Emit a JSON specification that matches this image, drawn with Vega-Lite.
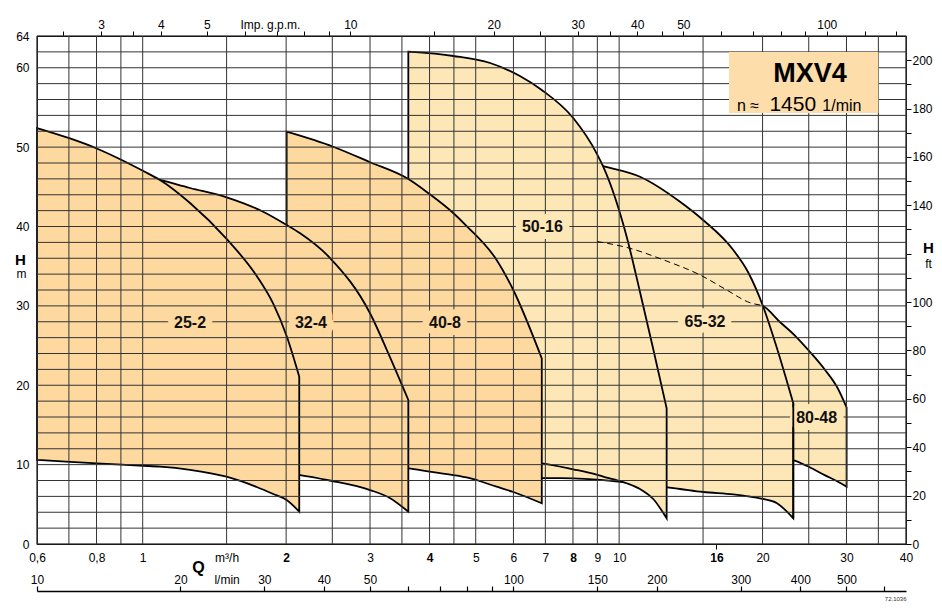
{
  "$schema": "https://vega.github.io/schema/vega-lite/v6.json",
  "width": 869,
  "height": 508,
  "autosize": {"type": "none"},
  "padding": {"left": 37, "top": 36, "right": 36, "bottom": 72},
  "background": "white",
  "config": {
    "font": "Liberation Sans",
    "view": {"stroke": "#000", "strokeWidth": 1.2},
    "axis": {"labelFont": "Liberation Sans", "labelFontSize": 12, "labelColor": "#000", "titleFont": "Liberation Sans", "titleColor": "#000", "labelOverlap": false, "labelBound": false, "labelFlush": false, "grid": false}
  },
  "datasets": {
    "pumps": [
      {"pump": "25-2", "q": 0.6, "top": 52.4, "bot": 10.6},
      {"pump": "25-2", "q": 0.7037, "top": 51.09, "bot": 10.35},
      {"pump": "25-2", "q": 0.8008, "top": 49.83, "bot": 10.17},
      {"pump": "25-2", "q": 0.9034, "top": 48.38, "bot": 10.0},
      {"pump": "25-2", "q": 1.003, "top": 46.99, "bot": 9.86},
      {"pump": "25-2", "q": 1.087, "top": 45.86, "bot": 9.75},
      {"pump": "25-2", "q": 1.257, "top": 42.96, "bot": 9.35},
      {"pump": "25-2", "q": 1.5, "top": 38.43, "bot": 8.48},
      {"pump": "25-2", "q": 1.735, "top": 33.76, "bot": 7.18},
      {"pump": "25-2", "q": 1.88, "top": 30.24, "bot": 6.3},
      {"pump": "25-2", "q": 2.005, "top": 26.2, "bot": 5.54},
      {"pump": "25-2", "q": 2.131, "top": 21.07, "bot": 4.07},

      {"pump": "32-4", "q": 1.0, "top": 46.4, "bot": 10.2},
      {"pump": "32-4", "q": 1.087, "top": 45.86, "bot": 10.05},
      {"pump": "32-4", "q": 1.257, "top": 44.85, "bot": 9.8},
      {"pump": "32-4", "q": 1.5, "top": 43.68, "bot": 9.5},
      {"pump": "32-4", "q": 1.79, "top": 41.86, "bot": 9.15},
      {"pump": "32-4", "q": 2.005, "top": 40.19, "bot": 8.9},
      {"pump": "32-4", "q": 2.14, "top": 39.14, "bot": 8.69},
      {"pump": "32-4", "q": 2.47, "top": 36.06, "bot": 8.0},
      {"pump": "32-4", "q": 3.0, "top": 29.07, "bot": 6.8},
      {"pump": "32-4", "q": 3.3, "top": 23.6, "bot": 5.8},
      {"pump": "32-4", "q": 3.61, "top": 18.14, "bot": 4.07},

      {"pump": "40-8", "q": 2.005, "top": 51.94, "bot": 10.3},
      {"pump": "40-8", "q": 2.51, "top": 50.05, "bot": 10.1},
      {"pump": "40-8", "q": 3.0, "top": 48.1, "bot": 9.9},
      {"pump": "40-8", "q": 3.61, "top": 45.98, "bot": 9.54},
      {"pump": "40-8", "q": 4.0, "top": 44.09, "bot": 9.13},
      {"pump": "40-8", "q": 4.485, "top": 41.7, "bot": 8.69},
      {"pump": "40-8", "q": 4.786, "top": 40.06, "bot": 8.38},
      {"pump": "40-8", "q": 5.532, "top": 35.78, "bot": 7.22},
      {"pump": "40-8", "q": 5.995, "top": 32.0, "bot": 6.55},
      {"pump": "40-8", "q": 6.88, "top": 23.39, "bot": 5.13},

      {"pump": "50-16", "q": 3.61, "top": 62.02, "bot": 11.2},
      {"pump": "50-16", "q": 4.49, "top": 61.48, "bot": 10.9},
      {"pump": "50-16", "q": 5.36, "top": 60.6, "bot": 10.65},
      {"pump": "50-16", "q": 6.19, "top": 58.96, "bot": 10.4},
      {"pump": "50-16", "q": 6.88, "top": 57.2, "bot": 10.17},
      {"pump": "50-16", "q": 8.01, "top": 53.67, "bot": 9.41},
      {"pump": "50-16", "q": 8.97, "top": 49.22, "bot": 8.74},
      {"pump": "50-16", "q": 9.26, "top": 47.53, "bot": 8.5},
      {"pump": "50-16", "q": 9.81, "top": 43.59, "bot": 8.1},
      {"pump": "50-16", "q": 10.37, "top": 38.72, "bot": 7.65},
      {"pump": "50-16", "q": 11.06, "top": 31.75, "bot": 6.93},
      {"pump": "50-16", "q": 11.79, "top": 24.57, "bot": 5.67},
      {"pump": "50-16", "q": 12.58, "top": 17.1, "bot": 3.24},

      {"pump": "65-32", "q": 6.7, "top": 48.9, "bot": 8.3},
      {"pump": "65-32", "q": 8.0, "top": 48.5, "bot": 8.28},
      {"pump": "65-32", "q": 9.25, "top": 47.6, "bot": 8.06},
      {"pump": "65-32", "q": 11.06, "top": 46.27, "bot": 7.56},
      {"pump": "65-32", "q": 13.42, "top": 43.12, "bot": 6.93},
      {"pump": "65-32", "q": 15.0, "top": 40.82, "bot": 6.55},
      {"pump": "65-32", "q": 17.36, "top": 37.04, "bot": 6.24},
      {"pump": "65-32", "q": 18.64, "top": 34.27, "bot": 6.0},
      {"pump": "65-32", "q": 20.0, "top": 30.11, "bot": 5.67},
      {"pump": "65-32", "q": 21.4, "top": 24.82, "bot": 5.17},
      {"pump": "65-32", "q": 23.2, "top": 17.73, "bot": 3.24},

      {"pump": "80-48", "q": 19.0, "top": 30.25, "bot": 11.3},
      {"pump": "80-48", "q": 20.0, "top": 30.0, "bot": 11.15},
      {"pump": "80-48", "q": 21.75, "top": 27.97, "bot": 10.9},
      {"pump": "80-48", "q": 23.44, "top": 26.2, "bot": 10.48},
      {"pump": "80-48", "q": 25.16, "top": 24.19, "bot": 9.64},
      {"pump": "80-48", "q": 27.06, "top": 21.92, "bot": 8.65},
      {"pump": "80-48", "q": 28.74, "top": 19.65, "bot": 7.87},
      {"pump": "80-48", "q": 30.02, "top": 17.2, "bot": 7.22}
    ],
    "dashed": [
      {"q": 9.0, "h": 38.1},
      {"q": 10.54, "h": 37.25},
      {"q": 12.38, "h": 35.8},
      {"q": 14.78, "h": 33.9},
      {"q": 16.82, "h": 32.0},
      {"q": 18.82, "h": 30.4},
      {"q": 20.0, "h": 30.05}
    ],
    "labels": [
      {"pump": "25-2", "q": 1.257, "h": 27.85},
      {"pump": "32-4", "q": 2.255, "h": 27.85},
      {"pump": "40-8", "q": 4.31, "h": 27.85},
      {"pump": "50-16", "q": 6.9, "h": 40.0},
      {"pump": "65-32", "q": 15.14, "h": 27.95},
      {"pump": "80-48", "q": 25.97, "h": 15.85}
    ],
    "vgrid": [
      {"q": 0.6}, {"q": 0.7}, {"q": 0.8}, {"q": 0.9}, {"q": 1}, {"q": 1.5}, {"q": 2}, {"q": 2.5},
      {"q": 3}, {"q": 3.5}, {"q": 4}, {"q": 4.5}, {"q": 5}, {"q": 6}, {"q": 7}, {"q": 8}, {"q": 9},
      {"q": 10}, {"q": 15}, {"q": 20}, {"q": 25}, {"q": 30}, {"q": 35}, {"q": 40}
    ],
    "hgrid": [
      {"h": 0}, {"h": 2}, {"h": 4}, {"h": 6}, {"h": 8}, {"h": 10}, {"h": 12}, {"h": 14}, {"h": 16},
      {"h": 18}, {"h": 20}, {"h": 22}, {"h": 24}, {"h": 26}, {"h": 28}, {"h": 30}, {"h": 32},
      {"h": 34}, {"h": 36}, {"h": 38}, {"h": 40}, {"h": 42}, {"h": 44}, {"h": 46}, {"h": 48},
      {"h": 50}, {"h": 52}, {"h": 54}, {"h": 56}, {"h": 58}, {"h": 60}, {"h": 62}, {"h": 64}
    ]
  },
  "layer": [
    {
      "data": {"name": "pumps"},
      "transform": [{"filter": "datum.pump == '80-48'"}],
      "mark": {"type": "area", "interpolate": "monotone", "fill": "#FEE7B6", "stroke": "#000", "strokeWidth": 1.8},
      "encoding": {
        "x": {"field": "q", "type": "quantitative", "scale": {"type": "log", "domain": [0.6, 40], "nice": false}, "axis": null},
        "y": {"field": "top", "type": "quantitative", "scale": {"domain": [0, 64], "nice": false, "zero": false}, "axis": null},
        "y2": {"field": "bot"}
      }
    },
    {
      "data": {"name": "pumps"},
      "transform": [{"filter": "datum.pump == '65-32'"}],
      "mark": {"type": "area", "interpolate": "monotone", "fill": "#FEE7B6", "stroke": "#000", "strokeWidth": 1.8},
      "encoding": {
        "x": {"field": "q", "type": "quantitative", "scale": {"type": "log", "domain": [0.6, 40], "nice": false}, "axis": null},
        "y": {"field": "top", "type": "quantitative", "scale": {"domain": [0, 64], "nice": false, "zero": false}, "axis": null},
        "y2": {"field": "bot"}
      }
    },
    {
      "data": {"name": "pumps"},
      "transform": [{"filter": "datum.pump == '50-16'"}],
      "mark": {"type": "area", "interpolate": "monotone", "fill": "#FEE7B6", "stroke": "#000", "strokeWidth": 1.8},
      "encoding": {
        "x": {"field": "q", "type": "quantitative", "scale": {"type": "log", "domain": [0.6, 40], "nice": false}, "axis": null},
        "y": {"field": "top", "type": "quantitative", "scale": {"domain": [0, 64], "nice": false, "zero": false}, "axis": null},
        "y2": {"field": "bot"}
      }
    },
    {
      "data": {"name": "pumps"},
      "transform": [{"filter": "datum.pump == '40-8'"}],
      "mark": {"type": "area", "interpolate": "monotone", "fill": "#FDD9A0", "stroke": "#000", "strokeWidth": 1.8},
      "encoding": {
        "x": {"field": "q", "type": "quantitative", "scale": {"type": "log", "domain": [0.6, 40], "nice": false}, "axis": null},
        "y": {"field": "top", "type": "quantitative", "scale": {"domain": [0, 64], "nice": false, "zero": false}, "axis": null},
        "y2": {"field": "bot"}
      }
    },
    {
      "data": {"name": "pumps"},
      "transform": [{"filter": "datum.pump == '32-4'"}],
      "mark": {"type": "area", "interpolate": "monotone", "fill": "#FDD9A0", "stroke": "#000", "strokeWidth": 1.8},
      "encoding": {
        "x": {"field": "q", "type": "quantitative", "scale": {"type": "log", "domain": [0.6, 40], "nice": false}, "axis": null},
        "y": {"field": "top", "type": "quantitative", "scale": {"domain": [0, 64], "nice": false, "zero": false}, "axis": null},
        "y2": {"field": "bot"}
      }
    },
    {
      "data": {"name": "pumps"},
      "transform": [{"filter": "datum.pump == '25-2'"}],
      "mark": {"type": "area", "interpolate": "monotone", "fill": "#FDD9A0", "stroke": "#000", "strokeWidth": 1.8},
      "encoding": {
        "x": {"field": "q", "type": "quantitative", "scale": {"type": "log", "domain": [0.6, 40], "nice": false}, "axis": null},
        "y": {"field": "top", "type": "quantitative", "scale": {"domain": [0, 64], "nice": false, "zero": false}, "axis": null},
        "y2": {"field": "bot"}
      }
    },
    {
      "data": {"name": "vgrid"},
      "mark": {"type": "rule", "stroke": "#333", "strokeWidth": 1},
      "encoding": {
        "x": {
          "field": "q", "type": "quantitative",
          "scale": {"type": "log", "domain": [0.6, 40], "nice": false},
          "axis": {
            "orient": "bottom",
            "values": [0.6, 0.8, 1, 1.5, 2, 3, 4, 5, 6, 7, 8, 9, 10, 16, 20, 30, 40],
            "labelExpr": "datum.value == 1.5 ? 'm³/h' : replace('' + datum.value, '.', ',')",
            "domain": false,
            "ticks": true,
            "tickSize": 5,
            "tickColor": "#000",
            "tickOpacity": {"condition": {"test": "datum.value == 16", "value": 1}, "value": 0},
            "labelFontWeight": {"condition": {"test": "indexof([2, 4, 8, 16], datum.value) >= 0", "value": "bold"}, "value": "normal"},
            "labelBaseline": "alphabetic",
            "labelPadding": 12.5,
            "title": "Q",
            "titleFontSize": 16,
            "titleFontWeight": "bold",
            "titleX": 161,
            "titleY": 23,
            "titleAlign": "center",
            "titleBaseline": "middle",
            "titleAngle": 0
          }
        }
      }
    },
    {
      "data": {"name": "hgrid"},
      "mark": {"type": "rule", "stroke": "#333", "strokeWidth": 1},
      "encoding": {
        "y": {
          "field": "h", "type": "quantitative",
          "scale": {"domain": [0, 64], "nice": false, "zero": false},
          "axis": {
            "orient": "left",
            "values": [0, 10, 20, 30, 34.14, 40, 50, 60, 64],
            "labelExpr": "datum.value == 34.14 ? 'm' : '' + datum.value",
            "domain": false,
            "ticks": false,
            "labelAlign": {"condition": {"test": "datum.value == 34.14", "value": "center"}, "value": "right"},
            "labelPadding": {"condition": {"test": "datum.value == 34.14", "value": 16}, "value": 8},
            "title": "H",
            "titleFontSize": 15,
            "titleFontWeight": "bold",
            "titleAngle": 0,
            "titleX": -17,
            "titleY": 223,
            "titleAlign": "center",
            "titleBaseline": "middle"
          }
        }
      }
    },
    {
      "data": {"name": "dashed"},
      "mark": {"type": "line", "interpolate": "monotone", "stroke": "#000", "strokeWidth": 1, "strokeDash": [6, 4]},
      "encoding": {
        "x": {"field": "q", "type": "quantitative", "scale": {"type": "log", "domain": [0.6, 40], "nice": false}, "axis": null},
        "y": {"field": "h", "type": "quantitative", "scale": {"domain": [0, 64], "nice": false, "zero": false}, "axis": null}
      }
    },
    {
      "data": {"values": [{"name": "MXV4", "q0": 17.0, "q1": 35.0, "h0": 54.3, "h1": 62.0}]},
      "mark": {"type": "rect", "fill": "#FDDDAA"},
      "encoding": {
        "x": {"field": "q0", "type": "quantitative", "scale": {"type": "log", "domain": [0.6, 40], "nice": false}, "axis": null},
        "x2": {"field": "q1"},
        "y": {"field": "h0", "type": "quantitative", "scale": {"domain": [0, 64], "nice": false, "zero": false}, "axis": null},
        "y2": {"field": "h1"}
      }
    },
    {
      "data": {"values": [{"t": "MXV4", "q": 25.14, "h": 58.24}]},
      "mark": {"type": "text", "font": "Liberation Sans", "fontSize": 27, "fontWeight": "bold", "align": "center", "baseline": "alphabetic", "fill": "#000"},
      "encoding": {
        "x": {"field": "q", "type": "quantitative", "scale": {"type": "log", "domain": [0.6, 40], "nice": false}, "axis": null},
        "y": {"field": "h", "type": "quantitative", "scale": {"domain": [0, 64], "nice": false, "zero": false}, "axis": null},
        "text": {"field": "t"}
      }
    },
    {
      "data": {"values": [{"t": "n ≈", "q": 17.67, "h": 54.61}, {"t": "1/min", "q": 26.7, "h": 54.61}]},
      "mark": {"type": "text", "font": "Liberation Sans", "fontSize": 16, "align": "left", "baseline": "alphabetic", "fill": "#000"},
      "encoding": {
        "x": {"field": "q", "type": "quantitative", "scale": {"type": "log", "domain": [0.6, 40], "nice": false}, "axis": null},
        "y": {"field": "h", "type": "quantitative", "scale": {"domain": [0, 64], "nice": false, "zero": false}, "axis": null},
        "text": {"field": "t"}
      }
    },
    {
      "data": {"values": [{"t": "1450", "q": 20.67, "h": 54.61}]},
      "mark": {"type": "text", "font": "Liberation Sans", "fontSize": 21, "align": "left", "baseline": "alphabetic", "fill": "#000"},
      "encoding": {
        "x": {"field": "q", "type": "quantitative", "scale": {"type": "log", "domain": [0.6, 40], "nice": false}, "axis": null},
        "y": {"field": "h", "type": "quantitative", "scale": {"domain": [0, 64], "nice": false, "zero": false}, "axis": null},
        "text": {"field": "t"}
      }
    },
    {
      "data": {"name": "labels"},
      "transform": [{"filter": "indexof(['25-2', '32-4', '40-8'], datum.pump) >= 0"}],
      "mark": {"type": "text", "font": "Liberation Sans", "fontSize": 16, "fontWeight": "bold", "align": "center", "baseline": "middle", "fill": "#FDD9A0", "stroke": "#FDD9A0", "strokeWidth": 14, "strokeJoin": "round"},
      "encoding": {
        "x": {"field": "q", "type": "quantitative", "scale": {"type": "log", "domain": [0.6, 40], "nice": false}, "axis": null},
        "y": {"field": "h", "type": "quantitative", "scale": {"domain": [0, 64], "nice": false, "zero": false}, "axis": null},
        "text": {"field": "pump"}
      }
    },
    {
      "data": {"name": "labels"},
      "transform": [{"filter": "indexof(['50-16', '65-32', '80-48'], datum.pump) >= 0"}],
      "mark": {"type": "text", "font": "Liberation Sans", "fontSize": 16, "fontWeight": "bold", "align": "center", "baseline": "middle", "fill": "#FEE7B6", "stroke": "#FEE7B6", "strokeWidth": 14, "strokeJoin": "round"},
      "encoding": {
        "x": {"field": "q", "type": "quantitative", "scale": {"type": "log", "domain": [0.6, 40], "nice": false}, "axis": null},
        "y": {"field": "h", "type": "quantitative", "scale": {"domain": [0, 64], "nice": false, "zero": false}, "axis": null},
        "text": {"field": "pump"}
      }
    },
    {
      "data": {"name": "pumps"},
      "transform": [{"filter": "datum.pump == '65-32' && datum.q == 23.2"}],
      "mark": {"type": "rule", "stroke": "#000", "strokeWidth": 1.8},
      "encoding": {
        "x": {"field": "q", "type": "quantitative", "scale": {"type": "log", "domain": [0.6, 40], "nice": false}, "axis": null},
        "y": {"field": "top", "type": "quantitative", "scale": {"domain": [0, 64], "nice": false, "zero": false}, "axis": null},
        "y2": {"field": "bot"}
      }
    },
    {
      "data": {"name": "labels"},
      "mark": {"type": "text", "font": "Liberation Sans", "fontSize": 16, "fontWeight": "bold", "align": "center", "baseline": "middle", "fill": "#111"},
      "encoding": {
        "x": {"field": "q", "type": "quantitative", "scale": {"type": "log", "domain": [0.6, 40], "nice": false}, "axis": null},
        "y": {"field": "h", "type": "quantitative", "scale": {"domain": [0, 64], "nice": false, "zero": false}, "axis": null},
        "text": {"field": "pump"}
      }
    },
    {
      "data": {"values": [{"ft": 0}, {"ft": 200}]},
      "mark": {"type": "rule", "opacity": 0},
      "encoding": {
        "y": {
          "field": "ft", "type": "quantitative",
          "scale": {"domain": [0, 209.974], "nice": false, "zero": false},
          "axis": {
            "orient": "right",
            "values": [0, 10, 20, 30, 40, 50, 60, 70, 80, 90, 100, 110, 116, 120, 130, 140, 150, 160, 170, 180, 190, 200],
            "labelExpr": "datum.value == 116 ? 'ft' : ((datum.value % 20 == 0 && datum.value != 120) ? '' + datum.value : '')",
            "domain": false,
            "ticks": true,
            "tickSize": 5,
            "tickColor": "#000",
            "tickOpacity": {"condition": {"test": "datum.value == 116", "value": 0}, "value": 1},
            "labelAlign": {"condition": {"test": "datum.value == 116", "value": "center"}, "value": "left"},
            "labelPadding": {"condition": {"test": "datum.value == 116", "value": 17}, "value": 1},
            "title": "H",
            "titleFontSize": 15,
            "titleFontWeight": "bold",
            "titleAngle": 0,
            "titleX": 22,
            "titleY": 211,
            "titleAlign": "center",
            "titleBaseline": "middle"
          }
        }
      }
    },
    {
      "data": {"values": [{"gpm": 3}]},
      "mark": {"type": "rule", "opacity": 0},
      "encoding": {
        "x": {
          "field": "gpm", "type": "quantitative",
          "scale": {"type": "log", "domain": [2.19969, 146.646], "nice": false},
          "axis": {
            "orient": "top",
            "values": [2.5, 3, 3.5, 4, 5, 6, 6.78, 7, 8, 9, 10, 15, 20, 25, 30, 35, 40, 45, 50, 60, 70, 80, 90, 100, 120, 140],
            "labelExpr": "datum.value == 6.78 ? 'Imp. g.p.m.' : (indexof([3, 4, 5, 10, 20, 30, 40, 50, 100], datum.value) >= 0 ? '' + datum.value : '')",
            "domain": false,
            "ticks": true,
            "tickSize": 5,
            "tickColor": "#000",
            "tickOpacity": {"condition": {"test": "datum.value == 6.78", "value": 0}, "value": 1},
            "labelBaseline": "alphabetic",
            "labelPadding": 3,
            "title": null
          }
        }
      }
    },
    {
      "data": {"values": [{"lpm": 10}]},
      "mark": {"type": "rule", "opacity": 0},
      "encoding": {
        "x": {
          "field": "lpm", "type": "quantitative",
          "scale": {"type": "log", "domain": [10, 666.667], "nice": false},
          "axis": {
            "orient": "bottom",
            "offset": 47,
            "values": [10, 20, 25, 30, 40, 50, 60, 70, 80, 90, 100, 150, 200, 300, 400, 500, 600],
            "labelExpr": "datum.value == 25 ? 'l/min' : (indexof([60, 70, 80, 90, 600], datum.value) >= 0 ? '' : '' + datum.value)",
            "domain": true,
            "domainColor": "#000",
            "domainWidth": 1.4,
            "domainOpacity": 1,
            "ticks": true,
            "tickSize": -5,
            "tickColor": "#000",
            "tickWidth": 1.2,
            "tickOpacity": {"condition": {"test": "datum.value == 25", "value": 0}, "value": 1},
            "labelBaseline": "alphabetic",
            "labelPadding": -3,
            "title": "72.1036",
            "titleFontSize": 6,
            "titleFontWeight": "normal",
            "titleColor": "#333",
            "titleX": 869,
            "titleY": 7,
            "titleAlign": "right",
            "titleBaseline": "middle",
            "titleAngle": 0
          }
        }
      }
    }
  ],
  "resolve": {"scale": {"x": "independent", "y": "independent"}}
}
